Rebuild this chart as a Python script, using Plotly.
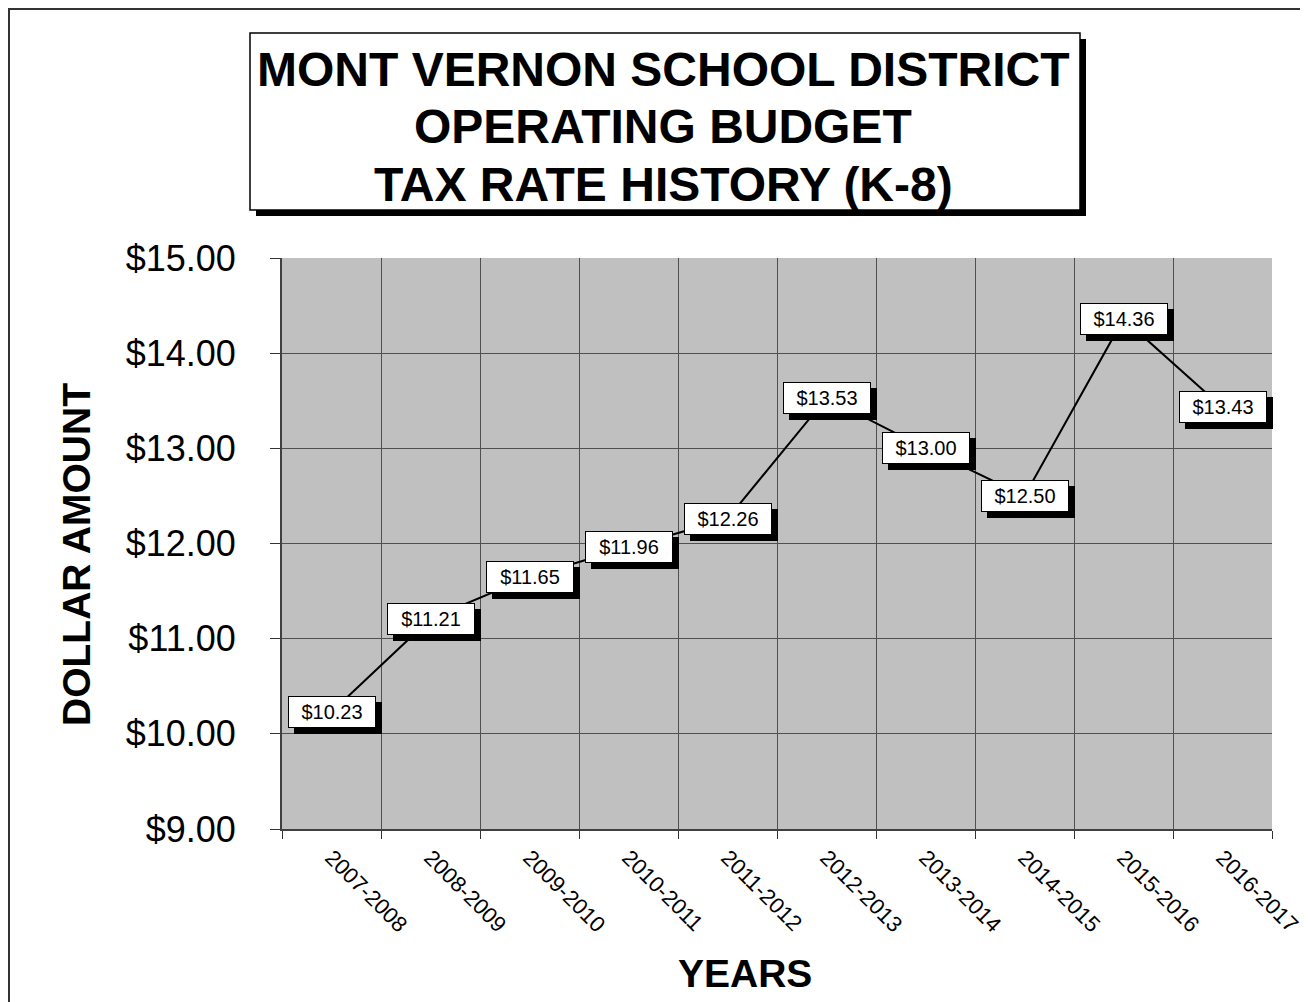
import plotly.graph_objects as go

years = ["2007-2008", "2008-2009", "2009-2010", "2010-2011", "2011-2012",
         "2012-2013", "2013-2014", "2014-2015", "2015-2016", "2016-2017"]
rates = [10.23, 11.21, 11.65, 11.96, 12.26, 13.53, 13.00, 12.50, 14.36, 13.43]
title_lines = ["MONT VERNON SCHOOL DISTRICT", "OPERATING BUDGET", "TAX RATE HISTORY (K-8)"]
y_ticks = [9, 10, 11, 12, 13, 14, 15]

OFF = 8  # page body margin
W, H = 1300, 994
# plot area in page pixels
PL, PR, PT, PB = 282, 1272, 258, 829
L, R, T, B = PL - OFF, PR - OFF, PT - OFF, PB - OFF


def px(x):
    return (x - PL) / (PR - PL)


def py(y):
    return (PB - y) / (PB - PT)


FONT = "Arial, Liberation Sans, sans-serif"

fig = go.Figure()
fig.add_trace(go.Scatter(x=years, y=rates, mode="lines",
                         line=dict(color="black", width=2), hoverinfo="skip",
                         showlegend=False))

annotations = []
for yr, v in zip(years, rates):
    txt = "$%.2f" % v
    # drop shadow box
    annotations.append(dict(x=yr, y=v, xref="x", yref="y", text=" ", showarrow=False,
                            width=86, height=30, borderpad=0, bgcolor="black",
                            bordercolor="black", borderwidth=1,
                            font=dict(family=FONT, size=20, color="black"),
                            xshift=6, yshift=-6))
    annotations.append(dict(x=yr, y=v, xref="x", yref="y", text=txt, showarrow=False,
                            width=86, height=30, borderpad=0, bgcolor="white",
                            bordercolor="black", borderwidth=1,
                            font=dict(family=FONT, size=20, color="black")))

title_y = [70, 127, 184]
for line, ty in zip(title_lines, title_y):
    annotations.append(dict(x=px(663), y=py(ty), xref="paper", yref="paper", text="<b>%s</b>" % line,
                            showarrow=False, xanchor="center", yanchor="middle",
                            font=dict(family=FONT, size=48, color="black")))

annotations.append(dict(x=px(76), y=py(555), xref="paper", yref="paper", text="<b>DOLLAR AMOUNT</b>",
                        showarrow=False, textangle=-90, xanchor="center", yanchor="middle",
                        font=dict(family=FONT, size=39, color="black")))
annotations.append(dict(x=px(745), y=py(973), xref="paper", yref="paper", text="<b>YEARS</b>",
                        showarrow=False, xanchor="center", yanchor="middle",
                        font=dict(family=FONT, size=39, color="black")))

shapes = [
    # outer frame
    dict(type="rect", xref="paper", yref="paper", x0=px(9), x1=px(1301), y0=py(9), y1=py(1020),
         line=dict(color="#333333", width=2), fillcolor="rgba(0,0,0,0)", layer="below"),
    # title box shadow
    dict(type="rect", xref="paper", yref="paper", x0=px(256), x1=px(1086), y0=py(39), y1=py(216),
         line=dict(color="black", width=0), fillcolor="black", layer="above"),
    # title box
    dict(type="rect", xref="paper", yref="paper", x0=px(250), x1=px(1080), y0=py(33), y1=py(210),
         line=dict(color="black", width=1.5), fillcolor="white", layer="above"),
]

fig.update_layout(
    width=W, height=H,
    margin=dict(l=L, r=W - R, t=T, b=H - B, pad=0, autoexpand=False),
    paper_bgcolor="white", plot_bgcolor="#C0C0C0",
    font=dict(family=FONT, color="black"),
    showlegend=False,
    annotations=annotations, shapes=shapes,
    xaxis=dict(type="category", categoryorder="array", categoryarray=years,
               tickson="boundaries", showgrid=True, gridcolor="#505050", gridwidth=1,
               ticks="outside", ticklen=8, tickcolor="#333333", tickwidth=1,
               tickangle=45, tickfont=dict(family=FONT, size=22, color="black"),
               showline=True, linecolor="#404040", linewidth=2, mirror=False,
               ticklabelstandoff=5, range=[-0.5, 9.5], fixedrange=True, automargin=False),
    yaxis=dict(range=[9, 15], tickvals=y_ticks, ticktext=["$%.2f" % t for t in y_ticks],
               showgrid=True, gridcolor="#505050", gridwidth=1,
               ticks="outside", ticklen=10, tickcolor="#333333", tickwidth=1,
               tickfont=dict(family=FONT, size=36, color="black"),
               showline=True, linecolor="#404040", linewidth=2, zeroline=False,
               ticklabelstandoff=27, fixedrange=True, automargin=False),
)

fig.write_html("out.html")
